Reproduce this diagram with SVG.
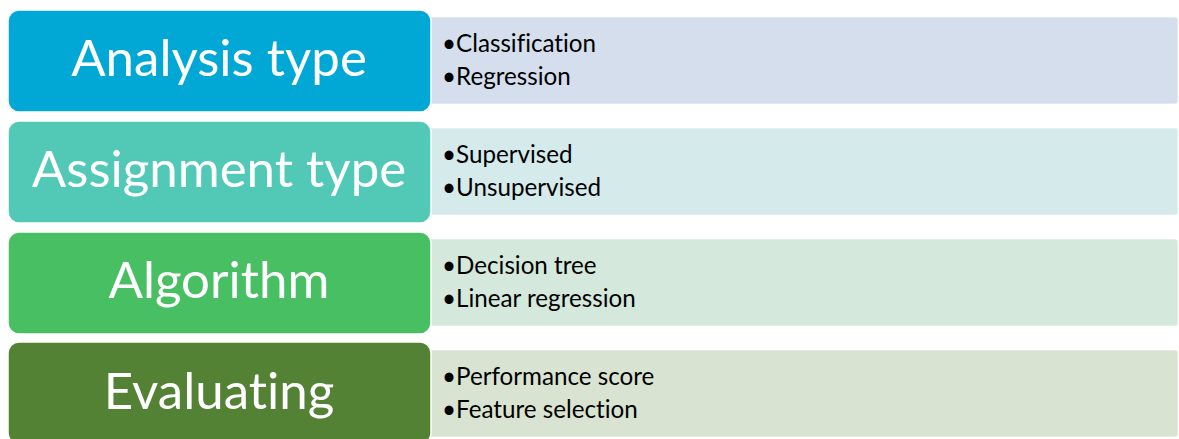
<svg xmlns="http://www.w3.org/2000/svg" width="1179" height="439" viewBox="0 0 1179 439">
<style>
.tab{stroke:#ffffff;stroke-opacity:0.6;stroke-width:1}
.head{stroke:#ffffff;stroke-width:1.5}
text{font-variant-ligatures:none;font-feature-settings:"liga" 0}
.ht{font-family:Lato,"Open Sans",sans-serif;font-size:51px;fill:#ffffff;text-anchor:middle}
.bt{font-family:Lato,"Open Sans",sans-serif;font-size:24.2px;fill:#000000}
</style>
<rect width="1179" height="439" fill="#ffffff"/>
<g id="connectors"></g>
<g id="row1">
<rect class="tab" x="425" y="17" width="753" height="87" rx="3" fill="#D4DEEC"/>
<rect class="head" x="8" y="10" width="423" height="102" rx="11" fill="#02A8D5"/>
<text class="ht" x="219" y="76">Analysis type</text>
<text class="bt" x="442" y="52">•Classification</text>
<text class="bt" x="442" y="85">•Regression</text>
</g>
<g id="row2">
<rect class="tab" x="425" y="128" width="753" height="87" rx="3" fill="#D4EAEB"/>
<rect class="head" x="8" y="121" width="423" height="102" rx="11" fill="#52C9B6"/>
<text class="ht" x="219" y="187">Assignment type</text>
<text class="bt" x="442" y="163">•Supervised</text>
<text class="bt" x="442" y="196">•Unsupervised</text>
</g>
<g id="row3">
<rect class="tab" x="425" y="239" width="753" height="87" rx="3" fill="#D4E8DB"/>
<rect class="head" x="8" y="232" width="423" height="102" rx="11" fill="#48BF63"/>
<text class="ht" x="219" y="298">Algorithm</text>
<text class="bt" x="442" y="274">•Decision tree</text>
<text class="bt" x="442" y="307">•Linear regression</text>
</g>
<g id="row4">
<rect class="tab" x="425" y="350" width="753" height="87" rx="3" fill="#D9E3D1"/>
<rect class="head" x="8" y="342" width="423" height="102" rx="11" fill="#548235"/>
<text class="ht" x="219" y="409">Evaluating</text>
<text class="bt" x="442" y="385">•Performance score</text>
<text class="bt" x="442" y="418">•Feature selection</text>
</g>
</svg>
